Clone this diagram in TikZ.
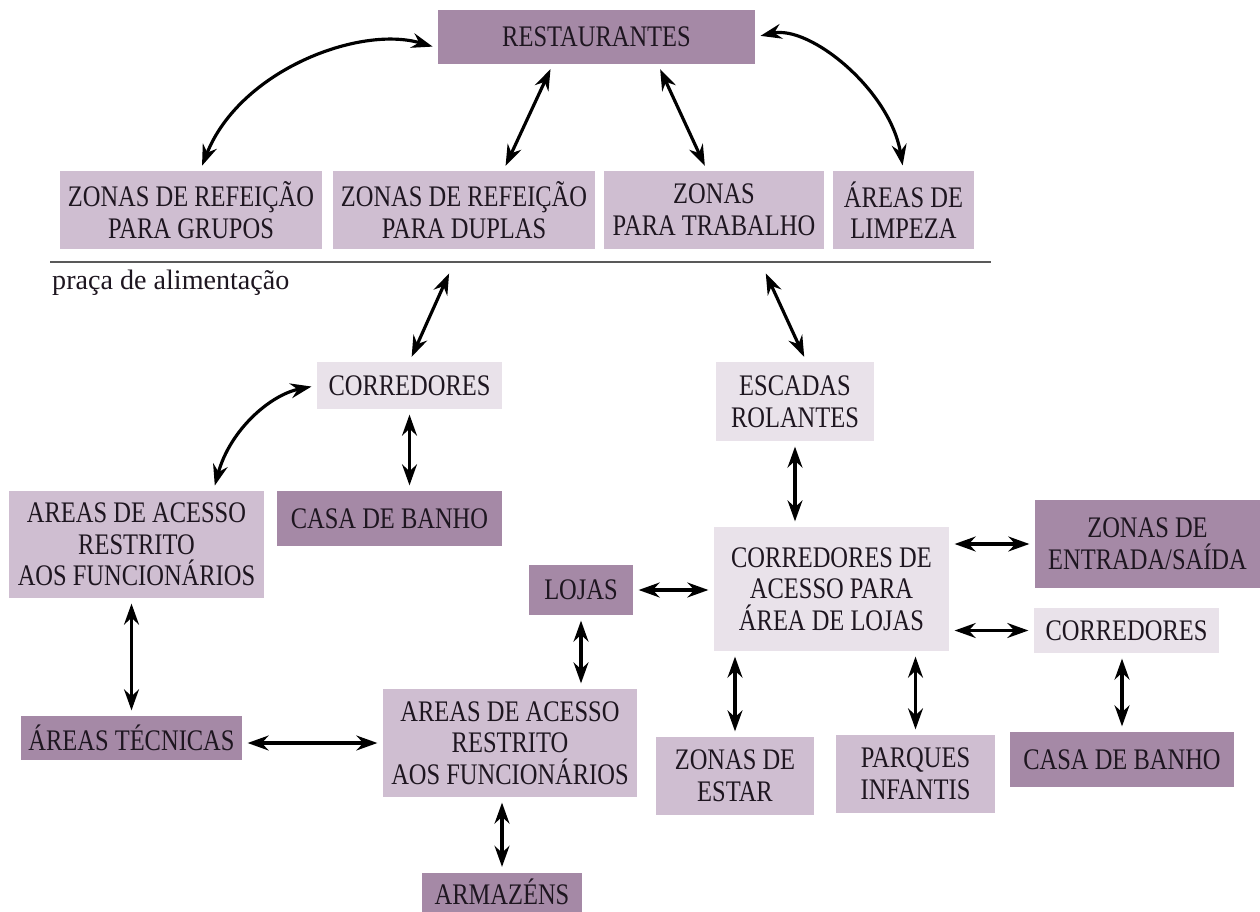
\documentclass[tikz,border=0pt]{standalone}
\usepackage{fontspec}
\setmainfont{Liberation Serif}
\newfontfamily\boxfont{Liberation Serif}[FakeStretch=0.82]
\usetikzlibrary{positioning,arrows.meta}
\definecolor{boxdark}{RGB}{165,137,166}
\definecolor{boxmid}{RGB}{207,190,209}
\definecolor{boxlight}{RGB}{233,226,234}
\definecolor{txt}{RGB}{30,22,32}

\begin{document}
\begin{tikzpicture}[x=0.02cm, y=-0.02cm,
  box/.style={rectangle, inner sep=2pt, align=center, text=txt, font=\boxfont\fontsize{17}{18}\selectfont},
  darkbox/.style={box, fill=boxdark},
  midbox/.style={box, fill=boxmid},
  lightbox/.style={box, fill=boxlight},
  link/.style={<->, line width=1.8pt, shorten <=3pt, shorten >=3pt},
  >={Stealth[length=12pt, width=8.5pt, inset=4pt]}]
\useasboundingbox (0,0) rectangle (1260,912);

% praca de alimentacao
\node[darkbox, minimum width=6.34cm, minimum height=1.08cm] (rest) at (596.5,37) {RESTAURANTES};
\node[midbox, minimum width=5.24cm, minimum height=1.56cm] (grupos) at (191,210) {ZONAS DE REFEIÇÃO\\PARA GRUPOS};
\node[midbox, minimum width=5.24cm, minimum height=1.56cm] (duplas) at (464,210) {ZONAS DE REFEIÇÃO\\PARA DUPLAS};
\node[midbox, minimum width=4.40cm, minimum height=1.56cm] (trabalho) at (714,210) {ZONAS\\PARA TRABALHO};
\node[midbox, minimum width=2.82cm, minimum height=1.56cm] (limpeza) at (903.5,210) {ÁREAS DE\\LIMPEZA};
\draw[line width=0.9pt, black!65] (50,262) -- (991,262);
\node[anchor=west, text=txt, font=\fontsize{16}{18}\selectfont] (praca) at (46,283) {praça de alimentação};

% corredores e escadas
\node[lightbox, minimum width=3.70cm, minimum height=0.94cm] (cor1) at (409.5,385.5) {CORREDORES};
\node[lightbox, minimum width=3.16cm, minimum height=1.58cm] (escadas) at (795,401.5) {ESCADAS\\ROLANTES};
\node[midbox, minimum width=5.10cm, minimum height=2.14cm] (arealeft) at (136.5,544.5) {AREAS DE ACESSO\\RESTRITO\\AOS FUNCIONÁRIOS};
\node[darkbox, minimum width=4.50cm, minimum height=1.10cm] (casa1) at (389.5,518.5) {CASA DE BANHO};
\node[darkbox, minimum width=2.08cm, minimum height=1.00cm] (lojas) at (581,590) {LOJAS};
\node[lightbox, minimum width=4.70cm, minimum height=2.48cm] (cda) at (831.5,589) {CORREDORES DE\\ACESSO PARA\\ÁREA DE LOJAS};
\node[darkbox, minimum width=4.50cm, minimum height=1.76cm] (entrada) at (1147.5,544) {ZONAS DE\\ENTRADA/SAÍDA};
\node[lightbox, minimum width=3.70cm, minimum height=0.90cm] (cor2) at (1126.5,630.5) {CORREDORES};

% nivel de baixo
\node[darkbox, minimum width=4.42cm, minimum height=0.88cm] (tecnicas) at (131.5,738) {ÁREAS TÉCNICAS};
\node[midbox, minimum width=5.08cm, minimum height=2.16cm] (areactr) at (510,743) {AREAS DE ACESSO\\RESTRITO\\AOS FUNCIONÁRIOS};
\node[midbox, minimum width=3.16cm, minimum height=1.56cm] (estar) at (735,776) {ZONAS DE\\ESTAR};
\node[midbox, minimum width=3.18cm, minimum height=1.56cm] (parques) at (915.5,774) {PARQUES\\INFANTIS};
\node[darkbox, minimum width=4.48cm, minimum height=1.10cm] (casa2) at (1122,759.5) {CASA DE BANHO};
\node[darkbox, minimum width=3.20cm, minimum height=0.78cm] (armazens) at (502,892) {ARMAZÉNS};

% ligacoes
\draw[link] (rest.184) .. controls (360,25) and (240,70) .. (grupos.77);
\draw[link] (rest.212) -- (duplas.45);
\draw[link] (rest.336) -- (trabalho.100);
\draw[link] (rest.east) .. controls (810,25) and (890,90) .. (limpeza.north);
\draw[link, shorten <=15pt] (duplas.264) -- (cor1.north);
\draw[link, shorten <=15pt] (trabalho.316) -- (escadas.74);
\draw[link] (cor1.west) .. controls (270,395) and (230,430) .. (arealeft.35);
\draw[link] (cor1.south) -- (cor1.south |- casa1.north);
\draw[link] (tecnicas.north |- arealeft.south) -- (tecnicas.north);
\draw[link] (areactr.west -| tecnicas.east) -- (areactr.west);
\draw[link] (lojas.south) -- (lojas.south |- areactr.north);
\draw[link] (armazens.north |- areactr.south) -- (armazens.north);
\draw[link] (lojas.east) -- (lojas.east -| cda.west);
\draw[link] (escadas.south) -- (escadas.south |- cda.north);
\draw[link] (entrada.west -| cda.east) -- (entrada.west);
\draw[link] (cor2.west -| cda.east) -- (cor2.west);
\draw[link] (estar.north |- cda.south) -- (estar.north);
\draw[link] (parques.north |- cda.south) -- (parques.north);
\draw[link] (casa2.north |- cor2.south) -- (casa2.north);

\end{tikzpicture}
\end{document}
